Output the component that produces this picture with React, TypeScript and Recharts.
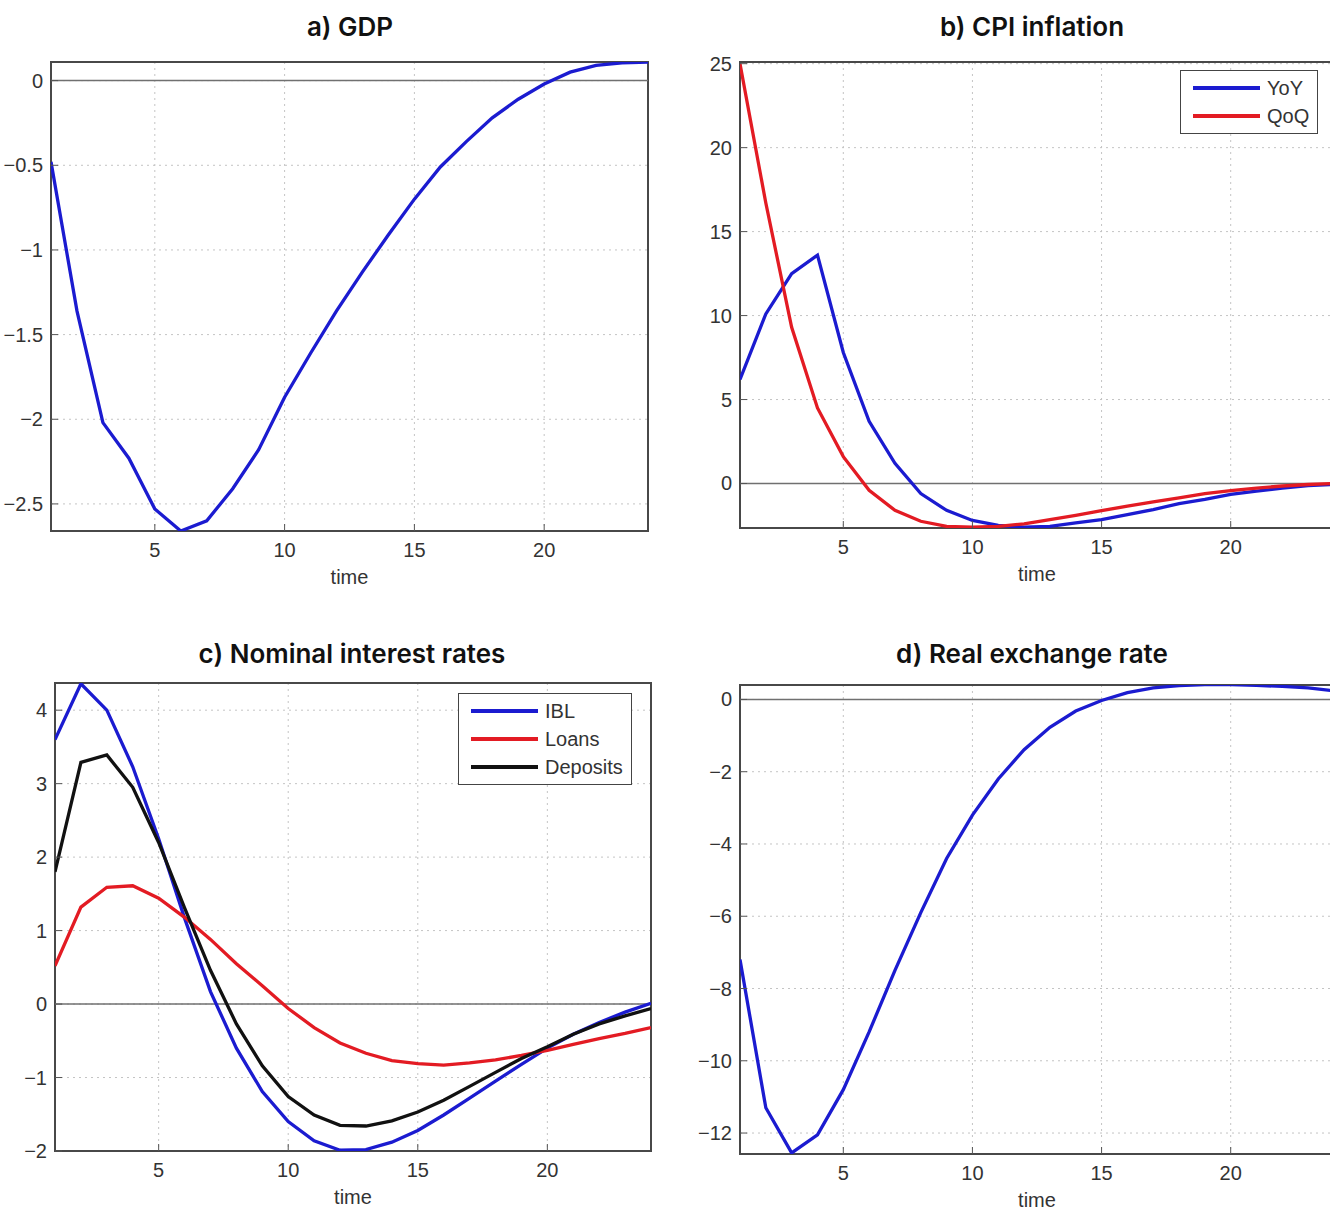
import * as React from 'react'
import {
    LineChart,
    Line,
    XAxis,
    YAxis,
    CartesianGrid,
    ReferenceLine,
    ReferenceArea,
    Legend,
} from 'recharts'

// quarters after the shock
const time = [1, 2, 3, 4, 5, 6, 7, 8, 9, 10, 11, 12, 13, 14, 15, 16, 17, 18, 19, 20, 21, 22, 23, 24]
const xTicks = [5, 10, 15, 20]

// a) GDP
const gdp = [-0.48, -1.36, -2.02, -2.23, -2.53, -2.66, -2.6, -2.41, -2.18, -1.87, -1.61, -1.36, -1.13, -0.91, -0.7, -0.51, -0.36, -0.22, -0.11, -0.02, 0.05, 0.09, 0.105, 0.11]
const gdpTicks = [0, -0.5, -1, -1.5, -2, -2.5]

// b) CPI inflation
const cpiYoY = [6.2, 10.1, 12.5, 13.6, 7.8, 3.7, 1.2, -0.6, -1.6, -2.2, -2.5, -2.6, -2.55, -2.35, -2.15, -1.85, -1.55, -1.2, -0.95, -0.65, -0.45, -0.28, -0.13, -0.05]
const cpiQoQ = [25, 16.7, 9.3, 4.5, 1.6, -0.4, -1.6, -2.25, -2.55, -2.6, -2.55, -2.4, -2.15, -1.9, -1.62, -1.35, -1.1, -0.85, -0.6, -0.42, -0.27, -0.15, -0.06, 0]
const cpiTicks = [25, 20, 15, 10, 5, 0]

// c) Nominal interest rates
const ibl = [3.6, 4.36, 4.0, 3.23, 2.25, 1.17, 0.17, -0.6, -1.19, -1.6, -1.86, -1.99, -1.98, -1.88, -1.72, -1.51, -1.28, -1.05, -0.82, -0.6, -0.41, -0.25, -0.11, 0.01]
const loans = [0.52, 1.32, 1.59, 1.61, 1.44, 1.18, 0.88, 0.55, 0.25, -0.06, -0.32, -0.53, -0.67, -0.77, -0.81, -0.83, -0.8, -0.76, -0.7, -0.63, -0.55, -0.47, -0.4, -0.32]
const deposits = [1.8, 3.29, 3.39, 2.95, 2.2, 1.31, 0.46, -0.27, -0.84, -1.26, -1.51, -1.65, -1.66, -1.59, -1.47, -1.31, -1.12, -0.93, -0.74, -0.58, -0.41, -0.27, -0.16, -0.06]
const rateTicks = [4, 3, 2, 1, 0, -1, -2]

// d) Real exchange rate
const rer = [-7.2, -11.3, -12.55, -12.05, -10.8, -9.2, -7.5, -5.9, -4.4, -3.2, -2.2, -1.39, -0.77, -0.32, -0.03, 0.19, 0.32, 0.38, 0.41, 0.41, 0.39, 0.36, 0.32, 0.24]
const rerTicks = [0, -2, -4, -6, -8, -10, -12]

const BLUE = '#1b1bd0'
const RED = '#e31b23'
const BLACK = '#111111'
const FONT = '"Liberation Sans", Arial, sans-serif'

const fmt = (v: number) => (v < 0 ? '\u2212' + Math.abs(v) : String(v))

const XTick = (props: any) => {
    const { x, y, payload } = props
    return (
        <g>
            <line x1={x} x2={x} y1={y} y2={y - 7} stroke="#555" />
            <text x={x} y={y + 26} textAnchor="middle" fontSize={20} fill="#333" fontFamily={FONT}>
                {fmt(payload.value)}
            </text>
        </g>
    )
}

const YTick = (props: any) => {
    const { x, y, payload } = props
    return (
        <g>
            <line x1={x} x2={x + 7} y1={y} y2={y} stroke="#555" />
            <text x={x - 8} y={y + 7} textAnchor="end" fontSize={20} fill="#333" fontFamily={FONT}>
                {fmt(payload.value)}
            </text>
        </g>
    )
}

const BoxLegend = (props: any) => {
    const { payload, order } = props
    const items = [...(payload || [])].sort(
        (a: any, b: any) => (order || []).indexOf(a.value) - (order || []).indexOf(b.value)
    )
    return (
        <div style={{ background: '#fff', border: '1.5px solid #444', padding: '3px 8px 3px 12px', fontFamily: FONT, fontSize: 20, color: '#333' }}>
            {items.map((e: any) => (
                <div key={e.value} style={{ display: 'flex', alignItems: 'center', height: 28 }}>
                    <span style={{ display: 'inline-block', width: 67, borderTop: `4px solid ${e.color}`, marginRight: 7 }} />
                    <span>{e.value}</span>
                </div>
            ))}
        </div>
    )
}

interface SeriesDef {
    key: string
    name: string
    color: string
    values: number[]
}

interface PanelProps {
    title: string
    titleX: number
    titleY: number
    left: number
    top: number
    width: number
    height: number
    margin: { top: number; right: number; bottom: number; left: number }
    domain: [number, number]
    yTicks: number[]
    series: SeriesDef[]
    legend?: { left: number; top: number }
}

const Panel = (p: PanelProps) => {
    const data = time.map((t, i) => {
        const row: any = { t }
        p.series.forEach((s) => {
            row[s.key] = s.values[i]
        })
        return row
    })
    return (
        <>
            <div
                style={{
                    position: 'absolute',
                    left: p.titleX - 250,
                    width: 500,
                    top: p.titleY - 17,
                    textAlign: 'center',
                    fontFamily: 'Inter, "Noto Sans", sans-serif',
                    fontWeight: 600,
                    fontSize: 26,
                    color: '#111',
                    lineHeight: '34px',
                }}
            >
                {p.title}
            </div>
            <div style={{ position: 'absolute', left: p.left, top: p.top }}>
                <LineChart width={p.width} height={p.height} data={data} margin={p.margin}>
                    <CartesianGrid stroke="#c4c4c4" strokeDasharray="2 4" />
                    <XAxis
                        dataKey="t"
                        type="number"
                        domain={[1, 24]}
                        ticks={xTicks}
                        allowDataOverflow
                        axisLine={false}
                        tickLine={false}
                        tickSize={0}
                        tickMargin={0}
                        tick={<XTick />}
                        height={60}
                        label={{ value: 'time', position: 'insideTop', offset: 39, fontSize: 20, fill: '#333', fontFamily: FONT }}
                    />
                    <YAxis
                        type="number"
                        domain={p.domain}
                        ticks={p.yTicks}
                        allowDataOverflow
                        axisLine={false}
                        tickLine={false}
                        tickSize={0}
                        tickMargin={0}
                        tick={<YTick />}
                        width={45}
                    />
                    <ReferenceLine y={0} stroke="#707070" strokeWidth={1.5} />
                    {p.series.map((s) => (
                        <Line
                            key={s.key}
                            dataKey={s.key}
                            name={s.name}
                            stroke={s.color}
                            strokeWidth={3.3}
                            dot={false}
                            type="linear"
                            isAnimationActive={false}
                        />
                    ))}
                    <ReferenceArea
                        x1={1}
                        x2={24}
                        y1={p.domain[0]}
                        y2={p.domain[1]}
                        fill="none"
                        stroke="#484848"
                        strokeWidth={2}
                        ifOverflow="visible"
                    />
                    {p.legend && (
                        <Legend
                            layout="vertical"
                            align="center"
                            verticalAlign="middle"
                            content={<BoxLegend order={p.series.map((s) => s.name)} />}
                            wrapperStyle={{ left: p.legend.left, top: p.legend.top, width: 'auto', height: 'auto' }}
                        />
                    )}
                </LineChart>
            </div>
        </>
    )
}

export default function App() {
    return (
        <div style={{ position: 'absolute', left: 0, top: 0, width: 1330, height: 1211, overflow: 'hidden', background: '#fff' }}>
            <Panel
                title="a) GDP"
                titleX={350}
                titleY={27}
                left={0}
                top={40}
                width={660}
                height={570}
                margin={{ top: 22, right: 12, bottom: 19, left: 6 }}
                domain={[-2.66, 0.11]}
                yTicks={gdpTicks}
                series={[{ key: 'gdp', name: 'GDP', color: BLUE, values: gdp }]}
            />
            <Panel
                title="b) CPI inflation"
                titleX={1032}
                titleY={27}
                left={690}
                top={40}
                width={660}
                height={570}
                margin={{ top: 22, right: 16, bottom: 22, left: 5 }}
                domain={[-2.65, 25.1]}
                yTicks={cpiTicks}
                series={[
                    { key: 'yoy', name: 'YoY', color: BLUE, values: cpiYoY },
                    { key: 'qoq', name: 'QoQ', color: RED, values: cpiQoQ },
                ]}
                legend={{ left: 490, top: 30 }}
            />
            <Panel
                title="c) Nominal interest rates"
                titleX={352}
                titleY={654}
                left={0}
                top={660}
                width={670}
                height={570}
                margin={{ top: 23, right: 19, bottom: 19, left: 10 }}
                domain={[-2, 4.37]}
                yTicks={rateTicks}
                series={[
                    { key: 'ibl', name: 'IBL', color: BLUE, values: ibl },
                    { key: 'loans', name: 'Loans', color: RED, values: loans },
                    { key: 'deposits', name: 'Deposits', color: BLACK, values: deposits },
                ]}
                legend={{ left: 458, top: 33 }}
            />
            <Panel
                title="d) Real exchange rate"
                titleX={1032}
                titleY={654}
                left={690}
                top={660}
                width={660}
                height={570}
                margin={{ top: 25, right: 16, bottom: 16, left: 5 }}
                domain={[-12.58, 0.4]}
                yTicks={rerTicks}
                series={[{ key: 'rer', name: 'RER', color: BLUE, values: rer }]}
            />
        </div>
    )
}
